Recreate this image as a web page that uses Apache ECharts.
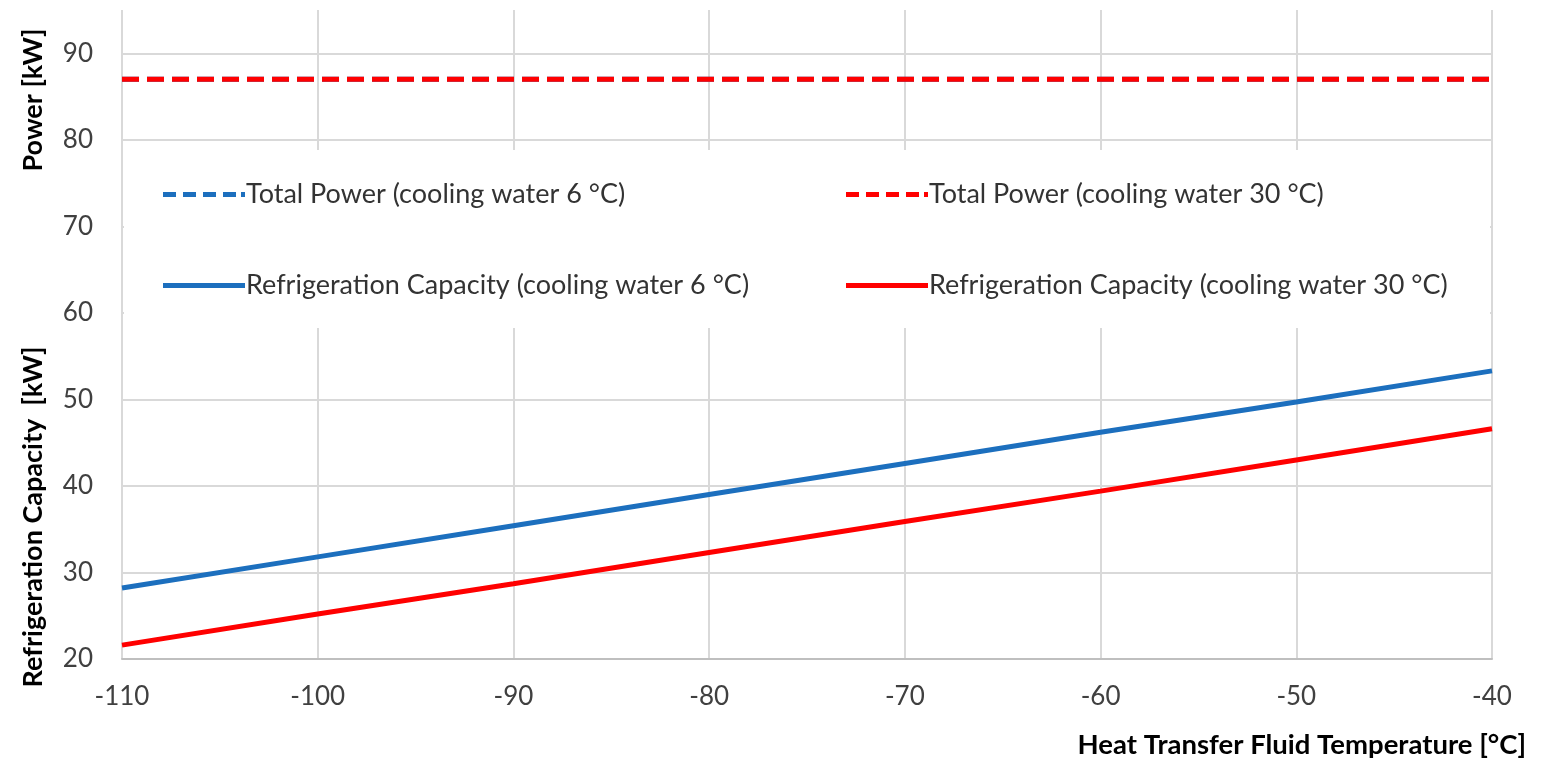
<!DOCTYPE html>
<html>
<head>
<meta charset="utf-8">
<script src="https://cdn.jsdelivr.net/npm/echarts@6/dist/echarts.min.js"></script>
<style>
html,body{margin:0;padding:0;background:#fff;}
#chart{width:1551px;height:763px;}
</style>
</head>
<body>
<div id="chart"></div>
<script>
// Data
const temperatures = [-110, -100, -90, -80, -70, -60, -50, -40];
const totalPower6 = [87, 87, 87, 87, 87, 87, 87, 87];
const totalPower30 = [87, 87, 87, 87, 87, 87, 87, 87];
const refrigCap6 = [28.2, 31.8, 35.4, 39.0, 42.6, 46.2, 49.7, 53.3];
const refrigCap30 = [21.6, 25.2, 28.7, 32.3, 35.9, 39.4, 43.0, 46.6];
const seriesNames = [
  'Total Power (cooling water 6 °C)',
  'Total Power (cooling water 30 °C)',
  'Refrigeration Capacity (cooling water 6 °C)',
  'Refrigeration Capacity (cooling water 30 °C)'
];
const yAxisTitles = ['Power [kW]', 'Refrigeration Capacity  [kW]'];
const xAxisTitle = 'Heat Transfer Fluid Temperature [°C]';

const BLUE = '#1c6fbe';
const RED = '#ff0000';
const FONT = 'Lato, "Open Sans", sans-serif';
const DASH_ICON = 'path://M0,0h13v5h-13z M20,0h13v5h-13z M40,0h13v5h-13z M60,0h13v5h-13z M78,0h4v5h-4z';
const SOLID_ICON = 'path://M0,0h82v5h-82z';

const pairs = arr => temperatures.map((t, i) => [t, arr[i]]);

const chart = echarts.init(document.getElementById('chart'), null, {renderer: 'canvas'});
const gridColors = ['#d9d9d9','#d9d9d9','#d9d9d9','#d9d9d9','#d9d9d9','#d9d9d9','#d9d9d9','#d9d9d9','rgba(0,0,0,0)'];

const legendBase = {
  orient: 'vertical', top: 176, itemGap: 64,
  itemWidth: 82, itemHeight: 14, z: 10,
  textStyle: {color: '#333', fontSize: 27, fontFamily: FONT, padding: [0, 0, 0, -4]}
};

chart.setOption({
  backgroundColor: '#fff',
  animation: false,
  grid: {left: 122, right: 59, top: 10, bottom: 104, containLabel: false},
  xAxis: {
    type: 'value', min: -110, max: -40, interval: 10,
    axisLine: {show: true, lineStyle: {color: '#bfbfbf', width: 2}},
    axisTick: {show: false},
    splitLine: {show: true, lineStyle: {color: '#d9d9d9', width: 2}},
    axisLabel: {color: '#404040', fontSize: 26, fontFamily: FONT, margin: 25}
  },
  yAxis: {
    type: 'value', min: 20, max: 95, interval: 10,
    axisLine: {show: false},
    axisTick: {show: false},
    splitLine: {show: true, lineStyle: {color: gridColors, width: 2}},
    axisLabel: {color: '#404040', fontSize: 26, fontFamily: FONT, margin: 29,
      formatter: v => (v % 10 === 0 ? String(v) : '')}
  },
  legend: [
    Object.assign({}, legendBase, {
      left: 158,
      data: [{name: seriesNames[0], icon: DASH_ICON}, {name: seriesNames[2], icon: SOLID_ICON}]
    }),
    Object.assign({}, legendBase, {
      left: 841,
      data: [{name: seriesNames[1], icon: DASH_ICON}, {name: seriesNames[3], icon: SOLID_ICON}]
    })
  ],
  graphic: [
    {type: 'rect', z: 5, shape: {x: 124, y: 150, width: 1366, height: 178}, style: {fill: '#fff'}, silent: true},
    {type: 'text', x: 33, y: 100, rotation: Math.PI / 2, z: 10,
      style: {text: yAxisTitles[0], font: 'bold 27px ' + FONT, fill: '#000', textAlign: 'center', textVerticalAlign: 'middle'}},
    {type: 'text', x: 33, y: 517, rotation: Math.PI / 2, z: 10,
      style: {text: yAxisTitles[1], font: 'bold 27px ' + FONT, fill: '#000', textAlign: 'center', textVerticalAlign: 'middle'}},
    {type: 'text', x: 1526, y: 745, z: 10,
      style: {text: xAxisTitle, font: 'bold 27.5px ' + FONT, fill: '#000', textAlign: 'right', textVerticalAlign: 'middle'}}
  ],
  series: [
    {name: seriesNames[0], type: 'line', data: pairs(totalPower6), symbol: 'none', z: 2,
      lineStyle: {color: BLUE, width: 5, type: [17, 8]}, itemStyle: {color: BLUE}},
    {name: seriesNames[1], type: 'line', data: pairs(totalPower30), symbol: 'none', z: 3,
      lineStyle: {color: RED, width: 5, type: [17, 8]}, itemStyle: {color: RED}},
    {name: seriesNames[2], type: 'line', data: pairs(refrigCap6), symbol: 'none', z: 2,
      lineStyle: {color: BLUE, width: 5}, itemStyle: {color: BLUE}},
    {name: seriesNames[3], type: 'line', data: pairs(refrigCap30), symbol: 'none', z: 2,
      lineStyle: {color: RED, width: 5}, itemStyle: {color: RED}}
  ]
});
</script>
</body>
</html>
